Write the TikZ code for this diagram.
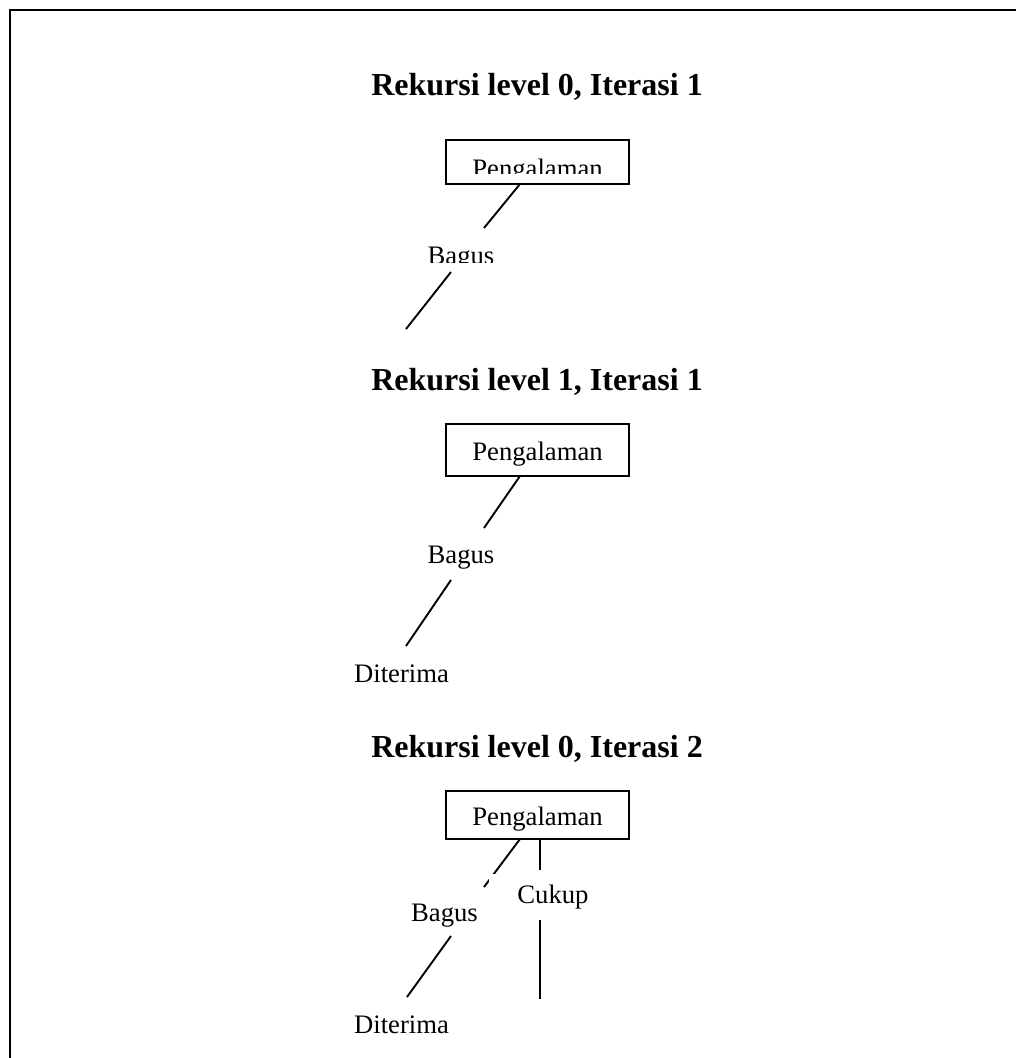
\documentclass[tikz,border=0pt]{standalone}
\usepackage{fontspec}
\setmainfont{Liberation Serif}
\begin{document}
\begin{tikzpicture}[x=0.45pt, y=-0.45pt,
	judul/.style={anchor=base, inner sep=0pt, font=\fontsize{14.4}{17}\selectfont\bfseries},
	teks/.style={anchor=base, inner sep=0pt, font=\fontsize{12}{14}\selectfont},
	kotak/.style={shape=rectangle, draw, line width=0.9pt, minimum width=82.35pt},
	garis/.style={line width=0.85pt}]
	\useasboundingbox (0,0) rectangle (1016,1058);
	% Bingkai:
	\draw[line width=0.9pt] (1016,10) -- (10,10) -- (10,1058);
	% Rekursi level 0, iterasi 1:
	\node[judul] (judul0) at (537,95) {Rekursi level 0, Iterasi 1};
	\node[kotak, minimum height=19.8pt] (kotak0) at (537.5,162) {};
	\begin{scope}
		\clip (446,140) rectangle (629,173);
		\node[teks] (akar0) at (537.5,177.5) {Pengalaman};
	\end{scope}
	\begin{scope}
		\clip (420,240) rectangle (505,262);
		\node[teks] (bagus0) at (461,264.5) {Bagus};
	\end{scope}
	\coordinate (a0) at (520,184);
	\coordinate (b0) at (484,228);
	\coordinate (c0) at (451,272);
	\coordinate (d0) at (406,329);
	\draw[garis] (a0) -- (b0);
	\draw[garis] (c0) -- (d0);
	% Rekursi level 1, iterasi 1:
	\node[judul] (judul1) at (537,390) {Rekursi level 1, Iterasi 1};
	\node[kotak, minimum height=23.4pt] (kotak1) at (537.5,450) {};
	\node[teks] (akar1) at (537.5,460) {Pengalaman};
	\node[teks] (bagus1) at (461,563) {Bagus};
	\node[teks] (terima1) at (401.5,682) {Diterima};
	\coordinate (a1) at (520,476);
	\coordinate (b1) at (484,528);
	\coordinate (c1) at (451,580);
	\coordinate (d1) at (406,646);
	\draw[garis] (a1) -- (b1);
	\draw[garis] (c1) -- (d1);
	% Rekursi level 0, iterasi 2:
	\node[judul] (judul2) at (537,757) {Rekursi level 0, Iterasi 2};
	\node[kotak, minimum height=21.6pt] (kotak2) at (537.5,815) {};
	\node[teks] (akar2) at (537.5,825) {Pengalaman};
	\node[teks] (bagus2) at (444.5,921) {Bagus};
	\node[teks] (terima2) at (401.5,1033) {Diterima};
	\coordinate (a2) at (520,839);
	\coordinate (b2) at (484,887);
	\coordinate (c2) at (451,936);
	\coordinate (d2) at (407,997);
	\coordinate (e2) at (540,839);
	\coordinate (f2) at (540,870);
	\coordinate (g2) at (540,920);
	\coordinate (h2) at (540,999);
	\draw[garis] (a2) -- (b2);
	\draw[garis] (c2) -- (d2);
	\node[teks, fill=white, inner xsep=12.6pt, inner ysep=4.9pt] (cukup2) at (553,903) {Cukup};
	\draw[garis] (e2) -- (f2);
	\draw[garis] (g2) -- (h2);
\end{tikzpicture}
\end{document}
